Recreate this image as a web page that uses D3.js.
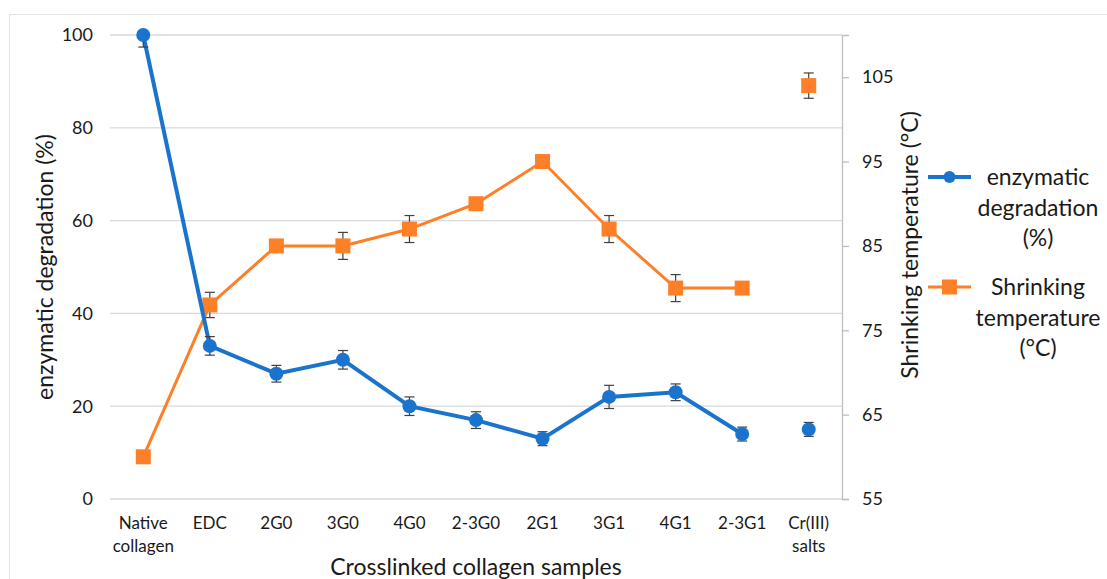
<!DOCTYPE html>
<html>
<head>
<meta charset="utf-8">
<script src="https://cdn.jsdelivr.net/npm/d3@7"></script>
<style>
  body { margin: 0; background: #fff; }
  text { font-family: Lato, "Open Sans", sans-serif; fill: #1a1a1a; }
</style>
</head>
<body>
<div id="chart"></div>
<script>
// Enzymatic degradation vs shrinking temperature

const width = 1107,
    height = 579,
    margin = ({ top: 35, right: 265, bottom: 80, left: 110 });

const samples = ["Native collagen", "EDC", "2G0", "3G0", "4G0", "2-3G0", "2G1", "3G1", "4G1", "2-3G1", "Cr(III) salts"];
const degradation = [100, 33, 27, 30, 20, 17, 13, 22, 23, 14, 15];
const degradationErr = [2.6, 2, 1.8, 2, 2, 1.8, 1.5, 2.5, 1.8, 1.5, 1.5];
const shrinking = [60, 78, 85, 85, 87, 90, 95, 87, 80, 80, 104];
const shrinkingErr = [0.5, 1.5, 0.6, 1.6, 1.6, 0.5, 0.5, 1.6, 1.6, 0.5, 1.5];
const leftTicks = [0, 20, 40, 60, 80, 100];
const rightTicks = [55, 65, 75, 85, 95, 105];

const blue = "#1a73cc", orange = "#fd7f27";

const svg = d3.select("#chart")
    .append("svg")
    .attr("width", width)
    .attr("height", height);

// outer frame
svg.append("rect")
    .attr("x", 9.5).attr("y", 14.5)
    .attr("width", width + 20).attr("height", height + 20)
    .attr("fill", "none")
    .attr("stroke", "#e3e3e3");

const x = d3.scalePoint()
    .domain(samples)
    .range([margin.left, width - margin.right])
    .padding(0.5);

const y = d3.scaleLinear()
    .domain([0, 100])
    .range([height - margin.bottom, margin.top]);

const y2 = d3.scaleLinear()
    .domain([55, 110])
    .range([height - margin.bottom, margin.top]);

svg.append("defs").append("clipPath")
    .attr("id", "plot")
    .append("rect")
    .attr("x", margin.left).attr("y", margin.top)
    .attr("width", width - margin.right - margin.left)
    .attr("height", height - margin.bottom - margin.top);

// gridlines
svg.append("g")
    .selectAll("line")
    .data(leftTicks)
    .join("line")
    .attr("x1", margin.left)
    .attr("x2", width - margin.right)
    .attr("y1", d => y(d))
    .attr("y2", d => y(d))
    .attr("stroke", "#d9d9d9")
    .attr("stroke-width", 1.3);

// left axis labels
svg.append("g")
    .selectAll("text")
    .data(leftTicks)
    .join("text")
    .attr("x", 93)
    .attr("y", d => y(d))
    .attr("dy", "0.35em")
    .attr("text-anchor", "end")
    .attr("font-size", 18)
    .text(d => d);

// right axis
const rAxis = svg.append("g")
    .attr("transform", `translate(${width - margin.right},0)`)
    .call(d3.axisRight(y2).tickValues(rightTicks).tickSize(7).tickPadding(13));
rAxis.select(".domain").attr("stroke", "#bfbfbf").attr("stroke-width", 1.3);
rAxis.selectAll(".tick line").attr("stroke", "#bfbfbf").attr("stroke-width", 1.3);
rAxis.selectAll(".tick text")
    .attr("font-size", 18)
    .attr("font-family", "Lato, 'Open Sans', sans-serif")
    .attr("fill", "#1a1a1a");

// category labels
svg.append("g")
    .selectAll("text")
    .data(samples)
    .join("text")
    .attr("x", d => x(d))
    .attr("y", 529)
    .attr("text-anchor", "middle")
    .attr("font-size", 17)
    .each(function (d) {
        const parts = d.split(" ");
        d3.select(this).selectAll("tspan")
            .data(parts)
            .join("tspan")
            .attr("x", x(d))
            .attr("dy", (p, i) => i ? 23 : 0)
            .text(p => p);
    });

// axis titles
svg.append("text")
    .attr("x", (margin.left + width - margin.right) / 2)
    .attr("y", 575)
    .attr("text-anchor", "middle")
    .attr("font-size", 23)
    .text("Crosslinked collagen samples");

svg.append("text")
    .attr("transform", `translate(53,${(margin.top + height - margin.bottom) / 2}) rotate(-90)`)
    .attr("text-anchor", "middle")
    .attr("font-size", 23)
    .text("enzymatic degradation (%)");

svg.append("text")
    .attr("transform", "translate(918,245) rotate(-90)")
    .attr("text-anchor", "middle")
    .attr("font-size", 23)
    .text("Shrinking temperature (°C)");

const plot = svg.append("g").attr("clip-path", "url(#plot)");

const connected = samples.slice(0, samples.length - 1);

// error bars
function errorBars(vals, errs, scale) {
    const g = plot.append("g").attr("stroke", "#404040").attr("stroke-width", 1.2);
    samples.forEach((s, i) => {
        const cx = x(s);
        g.append("line")
            .attr("x1", cx).attr("x2", cx)
            .attr("y1", scale(vals[i] - errs[i]))
            .attr("y2", scale(vals[i] + errs[i]));
        [vals[i] - errs[i], vals[i] + errs[i]].forEach(v => {
            g.append("line")
                .attr("x1", cx - 5).attr("x2", cx + 5)
                .attr("y1", scale(v)).attr("y2", scale(v));
        });
    });
}

// shrinking temperature
plot.append("path")
    .datum(connected)
    .attr("fill", "none")
    .attr("stroke", orange)
    .attr("stroke-width", 3)
    .attr("d", d3.line().x(d => x(d)).y((d, i) => y2(shrinking[i])));

errorBars(shrinking, shrinkingErr, y2);

plot.append("g")
    .selectAll("rect")
    .data(samples)
    .join("rect")
    .attr("x", d => x(d) - 7.5)
    .attr("y", (d, i) => y2(shrinking[i]) - 7.5)
    .attr("width", 15)
    .attr("height", 15)
    .attr("fill", orange);

// enzymatic degradation
plot.append("path")
    .datum(connected)
    .attr("fill", "none")
    .attr("stroke", blue)
    .attr("stroke-width", 4)
    .attr("d", d3.line().x(d => x(d)).y((d, i) => y(degradation[i])));

errorBars(degradation, degradationErr, y);

svg.append("g")
    .selectAll("circle")
    .data(samples)
    .join("circle")
    .attr("cx", d => x(d))
    .attr("cy", (d, i) => y(degradation[i]))
    .attr("r", 7)
    .attr("fill", blue);

// legend
const legend = svg.append("g");
const items = [
    { color: blue, shape: "circle", lines: ["enzymatic", "degradation", "(%)"], y: 177 },
    { color: orange, shape: "rect", lines: ["Shrinking", "temperature", "(°C)"], y: 287 }
];
items.forEach(it => {
    legend.append("line")
        .attr("x1", 928).attr("x2", 971)
        .attr("y1", it.y).attr("y2", it.y)
        .attr("stroke", it.color)
        .attr("stroke-width", it.shape === "circle" ? 4 : 3);
    if (it.shape === "circle") {
        legend.append("circle").attr("cx", 949.5).attr("cy", it.y).attr("r", 6).attr("fill", it.color);
    } else {
        legend.append("rect").attr("x", 942).attr("y", it.y - 7.5).attr("width", 15).attr("height", 15).attr("fill", it.color);
    }
    it.lines.forEach((t, j) => {
        legend.append("text")
            .attr("x", 1038)
            .attr("y", it.y + j * 30.5)
            .attr("dy", "0.35em")
            .attr("text-anchor", "middle")
            .attr("font-size", 23)
            .text(t);
    });
});
</script>
</body>
</html>
